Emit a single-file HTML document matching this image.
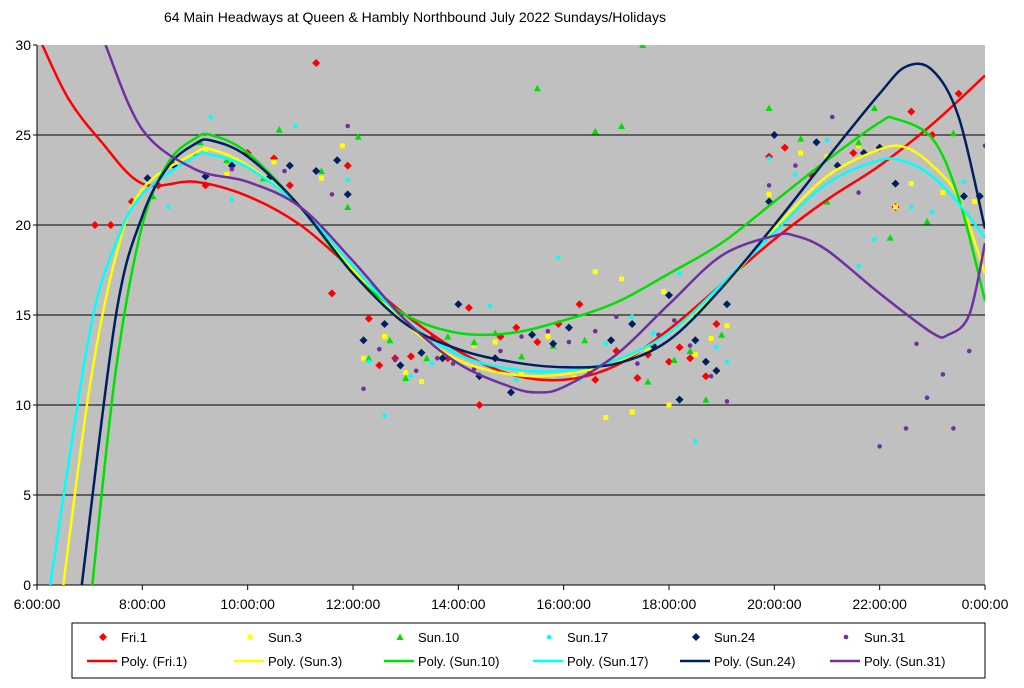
<!DOCTYPE html>
<html><head><meta charset="utf-8"><style>
body{margin:0;background:#fff;width:1024px;height:683px;overflow:hidden;font-family:"Liberation Sans",sans-serif}
svg text{font-family:"Liberation Sans",sans-serif}
</style></head><body>
<svg id="c" width="1024" height="683"></svg>
<script>
const seriesNames=["Fri.1","Sun.3","Sun.10","Sun.17","Sun.24","Sun.31"];
const colors=["#ff0000","#ffff00","#00e000","#00ffff","#001f60","#7030a0"];
const markers=["diamond","square","triangle","circle","diamond","circle"];
const yTicks=[0,5,10,15,20,25,30];
const xTicks=[6,8,10,12,14,16,18,20,22,24];
const xTickLabels=["6:00:00","8:00:00","10:00:00","12:00:00","14:00:00","16:00:00","18:00:00","20:00:00","22:00:00","0:00:00"];
const pts0=[[7.1,20],[7.4,20],[7.8,21.3],[8.3,22.2],[9.2,22.2],[10,24],[10.5,23.7],[10.8,22.2],[11.3,29],[11.6,16.2],[11.9,23.3],[12.3,14.8],[12.5,12.2],[12.8,12.6],[13.1,12.7],[13.5,13.7],[13.8,12.6],[14.2,15.4],[14.4,10],[14.8,13.8],[15.1,14.3],[15.5,13.5],[15.9,14.5],[16.3,15.6],[16.6,11.4],[17,13],[17.4,11.5],[17.6,12.8],[18,12.4],[18.2,13.2],[18.4,12.6],[18.7,11.6],[18.9,14.5],[19.9,23.8],[20.2,24.3],[20.7,22.8],[21.5,24],[22.3,21],[22.6,26.3],[23,25],[23.5,27.3]];
const pts1=[[8.5,23.3],[9.2,24.2],[9.6,22.8],[10.5,23.5],[11.4,22.6],[11.8,24.4],[12.2,12.6],[12.6,13.8],[13,11.8],[13.3,11.3],[13.7,12.9],[14.3,13.3],[14.7,13.5],[15.2,11.7],[15.7,13.8],[16.2,11.5],[16.6,17.4],[16.8,9.3],[17.1,17],[17.3,9.6],[17.6,13.1],[17.9,16.3],[18,10],[18.5,12.8],[18.8,13.7],[19.1,14.4],[19.9,21.7],[20.5,24],[21,23.8],[21.6,24.4],[22.3,21],[22.6,22.3],[23.2,21.8],[23.8,21.3]];
const pts2=[[8.2,21.6],[9.1,24.6],[9.6,23.6],[10.3,22.6],[10.6,25.3],[11.4,23],[11.9,21],[12.1,24.9],[12.3,12.6],[12.7,13.6],[13,11.5],[13.4,12.6],[13.8,13.8],[14.3,13.5],[14.7,14],[15.2,12.7],[15.5,27.6],[15.8,13.3],[16.4,13.6],[16.6,25.2],[17.1,25.5],[17.5,30],[17.6,11.3],[18.1,12.5],[18.4,13],[18.7,10.3],[19,13.9],[19.9,26.5],[20.5,24.8],[21,21.3],[21.6,24.6],[21.9,26.5],[22.2,19.3],[22.9,20.2],[23.4,25.1]];
const pts3=[[8.5,21],[9.3,26],[9.7,21.4],[10.9,25.5],[11.9,22.5],[12.3,12.4],[12.6,9.4],[13.1,11.6],[13.5,12.3],[13.9,13.1],[14.6,15.5],[15.1,11.4],[15.9,18.2],[16.3,11.4],[16.8,13.4],[17.3,14.9],[17.7,14],[18.2,17.3],[18.5,8],[18.9,13.2],[19.1,12.4],[19.9,23.7],[20.4,22.8],[21,24.7],[21.6,17.7],[21.9,19.2],[22.6,21],[23,20.7],[23.6,22.4]];
const pts4=[[8.1,22.6],[8.6,23.3],[9.2,22.7],[9.7,23.3],[10.4,22.6],[10.8,23.3],[11.3,23],[11.7,23.6],[11.9,21.7],[12.2,13.6],[12.6,14.5],[12.9,12.2],[13.3,12.9],[13.7,12.6],[14,15.6],[14.4,11.6],[14.7,12.6],[15,10.7],[15.4,13.9],[15.8,13.4],[16.1,14.3],[16.5,11.9],[16.9,13.6],[17.3,14.5],[17.7,13.3],[18,16.1],[18.2,10.3],[18.5,13.6],[18.7,12.4],[18.9,11.9],[19.1,15.6],[19.9,21.3],[20,25],[20.8,24.6],[21.2,23.3],[21.7,24],[22,24.3],[22.3,22.3],[23.6,21.6],[23.9,21.6]];
const pts5=[[9,23.9],[9.7,23.1],[10.7,23],[11.6,21.7],[11.9,25.5],[12.2,10.9],[12.5,13.1],[12.8,12.5],[13.2,11.9],[13.6,12.6],[13.9,12.3],[14.3,12],[14.8,13],[15.2,13.8],[15.7,14.1],[16.1,13.5],[16.6,14.1],[17,14.9],[17.4,12.3],[17.8,13.9],[18.1,14.7],[18.4,13.3],[18.8,11.6],[19.1,10.2],[19.9,22.2],[20.4,23.3],[21.1,26],[21.6,21.8],[22,7.7],[22.5,8.7],[22.7,13.4],[22.9,10.4],[23.2,11.7],[23.4,8.7],[23.7,13],[24,24.4]];
const points=[pts0,pts1,pts2,pts3,pts4,pts5];
const fit0=[[6.1,30],[6.6,27],[7.2,24.7],[8,22.3],[9,22.4],[10,21.6],[11,20],[12,17.5],[13,15],[14,13],[15,11.7],[16,11.4],[17,12.2],[18,14.2],[19,16.7],[20,19.2],[21,21.4],[22,23.3],[23,25.6],[24,28.3]];
const fit1=[[6.5,0],[7,11],[7.5,18.3],[8,22],[9,24],[9.3,24.2],[10,23.3],[11,21],[12,17.5],[13,14.5],[14,12.5],[15,11.7],[16,11.7],[17,12.4],[18,14],[19,16.5],[20,19.8],[21,22.7],[22,24.2],[22.5,24.3],[23,23.3],[23.5,21.5],[24,17.3]];
const fit2=[[7.05,0],[7.5,12],[8,20],[8.5,23.5],[9,24.8],[9.3,25],[10,24],[11,21],[12,17.3],[13,15],[14,14],[15,14],[16,14.7],[17,15.7],[18,17.3],[19,19],[20,21.3],[21,23.6],[22,25.7],[22.3,25.9],[23,24.8],[23.5,21.5],[24,15.8]];
const fit3=[[6.25,0],[7,14],[7.5,19],[8,21.7],[9,23.8],[9.3,23.9],[10,23.2],[11,21],[12,17.7],[13,14.7],[14,12.8],[15,12],[16,11.9],[17,12.5],[18,14],[19,16.7],[20,19.6],[21,22.3],[22,23.6],[22.5,23.5],[23,22.7],[23.5,21.2],[24,19.3]];
const fit4=[[6.85,0],[7.5,15],[8,20.5],[8.5,23.3],[9,24.5],[9.3,24.7],[10,23.8],[11,21],[12,17.3],[13,14.5],[14,13.1],[15,12.4],[16,12.1],[17,12.3],[18,13.6],[19,16.5],[20,20],[21,23.7],[22,27.3],[22.5,28.8],[23,28.6],[23.5,26],[24,19.8]];
const fit5=[[7.3,30],[8,25.3],[9,23.1],[10,22.4],[11,21],[12,18],[13,14.7],[14,12.3],[15,11],[15.5,10.7],[16,11],[17,12.8],[18,15.6],[19,18.3],[20,19.4],[20.4,19.4],[21,18.6],[22,16.2],[23,14],[23.3,13.9],[23.7,15],[24,19]];
const fits=[fit0,fit1,fit2,fit3,fit4,fit5];

const L=37,R=985,T=45,B=585;
const xs=h=>L+(h-6)/18*(R-L);
const ys=v=>B-v/30*(B-T);
const NS="http://www.w3.org/2000/svg";
const svg=document.getElementById('c');
function mk(t,a,p){const e=document.createElementNS(NS,t);for(const k in a)e.setAttribute(k,a[k]);(p||svg).appendChild(e);return e;}
const defs=mk('defs',{});const cp=mk('clipPath',{id:'pc'},defs);mk('rect',{x:L,y:T,width:R-L,height:B-T},cp);
let e=mk('text',{x:415,y:22,'font-size':14,'text-anchor':'middle',fill:'#000'});e.textContent="64 Main Headways at Queen & Hambly Northbound July 2022  Sundays/Holidays";


e=mk('rect',{x:L,y:T,width:R-L,height:B-T,fill:'#c0c0c0'});


yTicks.forEach(v=>{
 if(v>0&&v<30){const g=mk('line',{x1:L,x2:R,y1:ys(v),y2:ys(v),stroke:'#000','stroke-width':1});}
 mk('line',{x1:L-4,x2:L,y1:ys(v),y2:ys(v),stroke:'#000'});
 const t=mk('text',{x:L-6,y:ys(v)+5,'font-size':14,'text-anchor':'end'});t.textContent=v;
 
 
});
xTicks.forEach((h,i)=>{
 mk('line',{x1:xs(h),x2:xs(h),y1:B,y2:B+5,stroke:'#000'});
 const t=mk('text',{x:xs(h),y:B+24,'font-size':14,'text-anchor':'middle'});t.textContent=xTickLabels[i];
 
 
});
mk('line',{x1:L,x2:L,y1:T,y2:B,stroke:'#000'});mk('line',{x1:L,x2:R,y1:B,y2:B,stroke:'#000'});
function marker(type,x,y,col,p){
 if(type==='diamond')return mk('polygon',{points:`${x},${y-4} ${x+4},${y} ${x},${y+4} ${x-4},${y}`,fill:col},p);
 if(type==='square')return mk('rect',{x:x-2.5,y:y-2.5,width:5,height:5,fill:col},p);
 if(type==='triangle')return mk('polygon',{points:`${x},${y-3.5} ${x+3.5},${y+3} ${x-3.5},${y+3}`,fill:col},p);
 return mk('circle',{cx:x,cy:y,r:2.3,fill:col},p);
}
const pg=mk('g',{'clip-path':'url(#pc)'});
points.forEach((arr,s)=>arr.forEach(([h,v])=>{const m=marker(markers[s],xs(h),ys(v),colors[s],pg);}));
function smooth(p){let d=`M${p[0][0]},${p[0][1]}`;for(let i=0;i<p.length-1;i++){const p0=p[i-1]||p[i],p1=p[i],p2=p[i+1],p3=p[i+2]||p2;
 d+=` C${p1[0]+(p2[0]-p0[0])/6},${p1[1]+(p2[1]-p0[1])/6} ${p2[0]-(p3[0]-p1[0])/6},${p2[1]-(p3[1]-p1[1])/6} ${p2[0]},${p2[1]}`;}return d;}
fits.forEach((f,s)=>{const p=mk('path',{d:smooth(f.map(([h,v])=>[xs(h),ys(v)])),fill:'none',stroke:colors[s],'stroke-width':2.5},pg);
 
 });
const lg=mk('g',{});


mk('rect',{x:72,y:623,width:913,height:55,fill:'#fff',stroke:'#000'},lg);
const colX=[87,234,384,533,680,830];
seriesNames.forEach((n,s)=>{
 const x=colX[s];
 const m=marker(markers[s],x+16,637,colors[s],lg);
 
 
 let t=mk('text',{x:x+34,y:642,'font-size':13},lg);t.textContent=n;
 
 
 const l=mk('line',{x1:x,x2:x+30,y1:661,y2:661,stroke:colors[s],'stroke-width':2.5},lg);
 
 
 t=mk('text',{x:x+34,y:666,'font-size':13},lg);t.textContent="Poly. ("+n+")";
 
 
});
</script>
</body></html>
